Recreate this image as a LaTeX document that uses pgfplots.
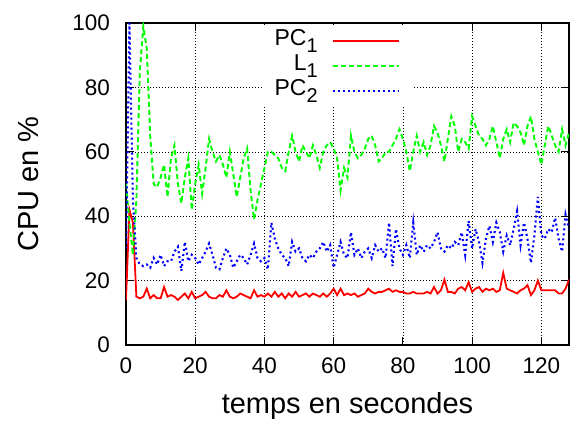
\documentclass[border=0pt]{standalone}
\usepackage{fontspec}
\setmainfont{Liberation Sans}
\usepackage{pgfplots}
\usepackage{pgfplotstable}
\pgfplotsset{compat=1.18}

\newcommand\sub[1]{\raisebox{-0.3em}{\fontsize{20bp}{20bp}\selectfont #1}}

% t  PC1  L1  PC2
\pgfplotstableread{
t pcA lA pcB
0 14 50 30
1 42 38 100
2 38 28 45
3 15 45 27
4 14.5 85 25
5 15 99 24.5
6 17.5 92 25
7 14.5 65 24
8 15.5 50 27
9 14.5 49 25
10 14.5 52 28
11 18 56 24.5
12 15 46 26
13 15.5 58 26
14 15 62 29
15 14 50 30.5
16 15 44 23
17 16 52 32
18 14.5 58 26
19 16.5 42 28
20 14.5 50 27
21 15 56 25
22 15.5 47 27
23 16.5 55 29
24 15 64 31.5
25 14.5 60 28
26 14.5 57 24
27 15.5 59 23.5
28 15 56 27
29 17 52 30
30 15 60 28
31 14.5 53 24
32 15 46 26
33 16 52 28
34 15.5 58 27
35 15 61 25
36 14.5 48 28
37 17 39 31.5
38 15 45 27
39 15.5 50 26
40 15 55 27
41 16 60 23.5
42 15 60 38
43 16.5 59 33
44 15 58 30
45 16 55 28
46 14.5 54 27
47 16 60 24.5
48 15 65 32
49 16.5 60 29
50 15 57 30
51 15.5 62 27
52 16 60 26
53 15 58 28
54 16 62 27
55 15.5 59 29
56 15 55 30
57 16 60 32
58 15 62 29
59 16 63 31
60 17.5 61 24
61 15.5 58 28
62 17.5 48 32
63 15.5 55 28
64 16 52 27
65 15.5 65 35
66 16 60 28
67 15 58 30
68 15.5 59 27
69 16 61 29
70 17.5 64 30
71 16.5 65 27
72 16 62 31
73 16.5 57 29
74 16.5 58 30
75 17 60 27
76 17.5 60 38
77 16.5 62 24.5
78 17 64 36
79 16.5 67 30
80 16.5 64 28
81 16 60 31
82 16 54 27
83 16.5 60 38
84 16 65 28
85 16 60 31
86 16 63 29
87 16.5 59 31
88 16 62 30
89 18 68 32
90 16 66 35
91 17 62 30
92 20.3 57 29
93 16.5 64 31
94 16.5 71 30
95 16 68 32
96 17.5 60 31
97 18 64 35
98 17 63 28
99 19.5 61 38.5
100 16.5 71 30
101 17.5 68 36
102 18 65 32
103 16.5 64 25.5
104 17.5 62 33
105 17 64 37
106 17.5 68 32
107 16.5 63 38
108 17 58 35
109 22.4 64 29
110 17.5 67 34
111 17 63 31
112 16.5 69 36
113 16 68 41.5
114 17 66 31
115 17.5 62 38
116 18.6 68 33
117 15.5 71 25.5
118 17 64 34
119 20 60 46
120 17 56 34
121 17 62 33
122 17 68 36
123 17 65 35
124 17 62 39.5
125 16 60 33
126 16 67 29
127 17.5 62 40.5
128 20.3 66 36
}\cpudata

\begin{document}
\begin{tikzpicture}
\begin{axis}[
  name=main,
  width=443bp, height=322bp, scale only axis,
  xmin=0, xmax=128, ymin=0, ymax=100,
  xtick={0,20,...,120}, ytick={0,20,...,100},
  grid=major,
  grid style={black, line width=0.5bp, dash pattern=on 1.2bp off 1.8bp},
  axis line style={black, line width=1.2bp},
  major tick length=8bp,
  tick style={black, line width=1bp},
  tick label style={font=\fontsize{22.5bp}{22.5bp}\selectfont},
  /pgf/number format/assume math mode=true,
  yticklabel style={inner sep=0pt, anchor=east, xshift=-16bp},
  xticklabel style={inner sep=0pt, anchor=north, yshift=-13bp},
  xlabel={temps en secondes},
  ylabel={CPU en \%},
  label style={font=\fontsize{29bp}{29bp}\selectfont, inner sep=0pt},
  xlabel style={at={(axis description cs:0.5,-0.2112)}, anchor=base},
  ylabel style={at={(axis description cs:-0.1986,0.5)}, anchor=base},
  legend cell align=right,
  legend plot pos=right,
  legend style={
    at={(axis description cs:0.6456,0.9953)}, anchor=north east,
    fill=white, draw=none, inner xsep=12bp, inner ysep=5.5bp,
    font=\fontsize{23bp}{23bp}\selectfont,
    column sep=14bp, row sep=3.5bp,
    nodes={inner sep=0pt, text height=15.5bp, text depth=6bp},
  },
  legend image code/.code={\draw[#1] (0bp,0bp) -- (66bp,0bp);},
]
\addplot[red, line width=1.8bp, forget plot] table[x=t, y=pcA] {\cpudata};
\addplot[green, line width=1.9bp, dash pattern=on 5bp off 3bp, forget plot] table[x=t, y=lA] {\cpudata};
\addplot[blue, line width=2.1bp, dash pattern=on 2bp off 3bp, forget plot] table[x=t, y=pcB] {\cpudata};
\addlegendimage{red, line width=1.8bp}
\addlegendentry{PC\sub{1}}
\addlegendimage{green, line width=1.9bp, dash pattern=on 5bp off 3bp}
\addlegendentry{L\sub{1}}
\addlegendimage{blue, line width=2.1bp, dash pattern=on 2bp off 3bp}
\addlegendentry{PC\sub{2}}
\end{axis}
\pgfresetboundingbox
\path[use as bounding box] ([xshift=-126bp, yshift=-76bp]main.south west)
  rectangle ([xshift=2bp, yshift=23bp]main.north east);
\end{tikzpicture}
\end{document}
